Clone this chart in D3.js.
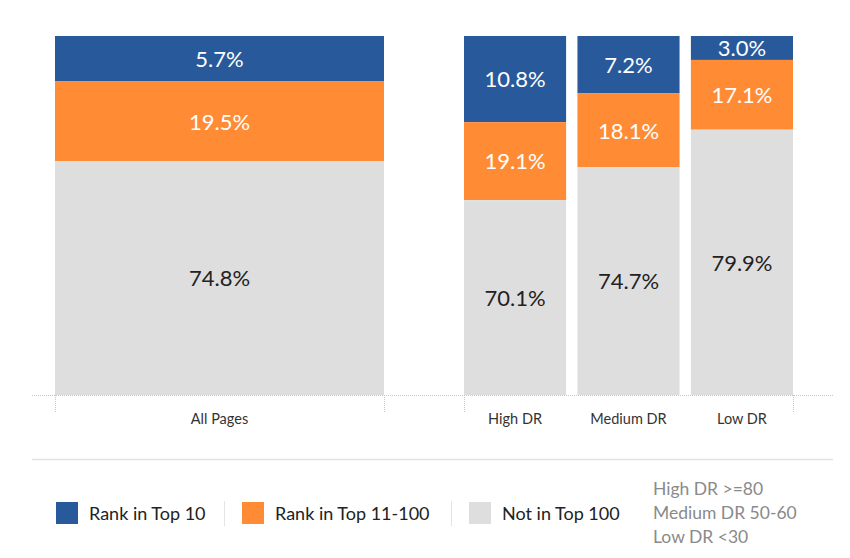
<!DOCTYPE html>
<html>
<head>
<meta charset="utf-8">
<script src="https://cdn.jsdelivr.net/npm/d3@7"></script>
<style>
  body { margin: 0; background: #fff; font-family: Lato, 'Open Sans', sans-serif; }
</style>
</head>
<body>
<script>
var width = 850
var height = 558

// data
var leftCategories = ['All Pages']
var rightCategories = ['High DR', 'Medium DR', 'Low DR']
var seriesNames = ['Rank in Top 10', 'Rank in Top 11-100', 'Not in Top 100']
var top10 = [5.7, 10.8, 7.2, 3.0]
var top11to100 = [19.5, 19.1, 18.1, 17.1]
var notTop100 = [74.8, 70.1, 74.7, 79.9]
var drNotes = ['High DR >=80', 'Medium DR 50-60', 'Low DR <30']

var colours = ['#285a9b', '#ff8c35', '#dedede']

var categories = leftCategories.concat(rightCategories)
var rows = categories.map(function (c, i) {
  return { name: c, values: [top10[i], top11to100[i], notTop100[i]] }
})

var plotTop = 36
var baseline = 395
var plotH = baseline - plotTop

var svg = d3.select('body').append('svg')
  .attr('width', width)
  .attr('height', height)

var xLeft = d3.scaleBand().domain(leftCategories).range([55, 384]).padding(0)
var xRight = d3.scaleBand().domain(rightCategories).range([464, 793]).paddingInner(0.1).paddingOuter(0)

function xPos (name) {
  return leftCategories.indexOf(name) >= 0 ? xLeft(name) : xRight(name)
}
function bw (name) {
  return leftCategories.indexOf(name) >= 0 ? xLeft.bandwidth() : xRight.bandwidth()
}

// the original stretches the small series: top 10 is drawn at twice the scale of 11-100,
// and the grey block just fills down to the baseline
var yTop10 = d3.scaleLinear().domain([0, 45]).range([0, plotH])
var yTop100 = d3.scaleLinear().domain([0, 88]).range([0, plotH])

var segs = []
rows.forEach(function (r) {
  var y0 = plotTop
  var h0 = yTop10(r.values[0])
  var h1 = yTop100(r.values[1])
  segs.push({ name: r.name, s: 0, v: r.values[0], y: y0, h: h0 })
  segs.push({ name: r.name, s: 1, v: r.values[1], y: y0 + h0, h: h1 })
  segs.push({ name: r.name, s: 2, v: r.values[2], y: y0 + h0 + h1, h: baseline - (y0 + h0 + h1) })
})

var g = svg.append('g')

g.selectAll('.seg')
  .data(segs)
  .enter().append('rect')
  .attr('class', 'seg')
  .attr('x', function (d) { return xPos(d.name) })
  .attr('width', function (d) { return bw(d.name) })
  .attr('y', function (d) { return d.y })
  .attr('height', function (d) { return d.h })
  .attr('fill', function (d) { return colours[d.s] })

g.selectAll('.lbl')
  .data(segs)
  .enter().append('text')
  .attr('class', 'lbl')
  .attr('x', function (d) { return xPos(d.name) + bw(d.name) / 2 })
  .attr('y', function (d) { return d.y + d.h / 2 })
  .attr('dy', '0.38em')
  .attr('text-anchor', 'middle')
  .style('font-size', '22px')
  .style('fill', function (d) { return d.s === 2 ? '#222' : '#fff' })
  .text(function (d) { return d.v.toFixed(1) + '%' })

// baseline and ticks
svg.append('line')
  .attr('x1', 32).attr('x2', 833)
  .attr('y1', baseline + 0.5).attr('y2', baseline + 0.5)
  .attr('stroke', '#c8c8c8')
  .attr('stroke-dasharray', '1,1')

var tickXs = [xLeft.range()[0], xLeft.range()[1], xRight.range()[0], xRight.range()[1]]
svg.selectAll('.tick')
  .data(tickXs)
  .enter().append('line')
  .attr('x1', function (d) { return d + 0.5 })
  .attr('x2', function (d) { return d + 0.5 })
  .attr('y1', baseline)
  .attr('y2', baseline + 18)
  .attr('stroke', '#c8c8c8')
  .attr('stroke-dasharray', '1,1')

svg.selectAll('.cat')
  .data(categories)
  .enter().append('text')
  .attr('class', 'cat')
  .attr('x', function (d) { return xPos(d) + bw(d) / 2 })
  .attr('y', 424)
  .attr('text-anchor', 'middle')
  .style('font-size', '14.5px')
  .style('fill', '#333')
  .text(function (d) { return d })

svg.append('line')
  .attr('x1', 32).attr('x2', 833)
  .attr('y1', 459.5).attr('y2', 459.5)
  .attr('stroke', '#e2e2e2')
  .attr('stroke-width', 1.5)

// legend
var legendX = [56, 242, 469]
var leg = svg.selectAll('.leg')
  .data(seriesNames)
  .enter().append('g')
  .attr('class', 'leg')
  .attr('transform', function (d, i) { return 'translate(' + legendX[i] + ',502)' })

leg.append('rect')
  .attr('width', 22).attr('height', 22)
  .attr('fill', function (d, i) { return colours[i] })

leg.append('text')
  .attr('x', 33)
  .attr('y', 18)
  .style('font-size', '18px')
  .style('fill', '#222')
  .text(function (d) { return d })

svg.selectAll('.sep')
  .data([224, 451])
  .enter().append('line')
  .attr('x1', function (d) { return d + 0.5 })
  .attr('x2', function (d) { return d + 0.5 })
  .attr('y1', 501).attr('y2', 526)
  .attr('stroke', '#e4e4e4')

svg.selectAll('.note')
  .data(drNotes)
  .enter().append('text')
  .attr('class', 'note')
  .attr('x', 653)
  .attr('y', function (d, i) { return 495 + i * 24 })
  .style('font-size', '17.5px')
  .style('fill', '#8a8a8a')
  .text(function (d) { return d })
</script>
</body>
</html>
